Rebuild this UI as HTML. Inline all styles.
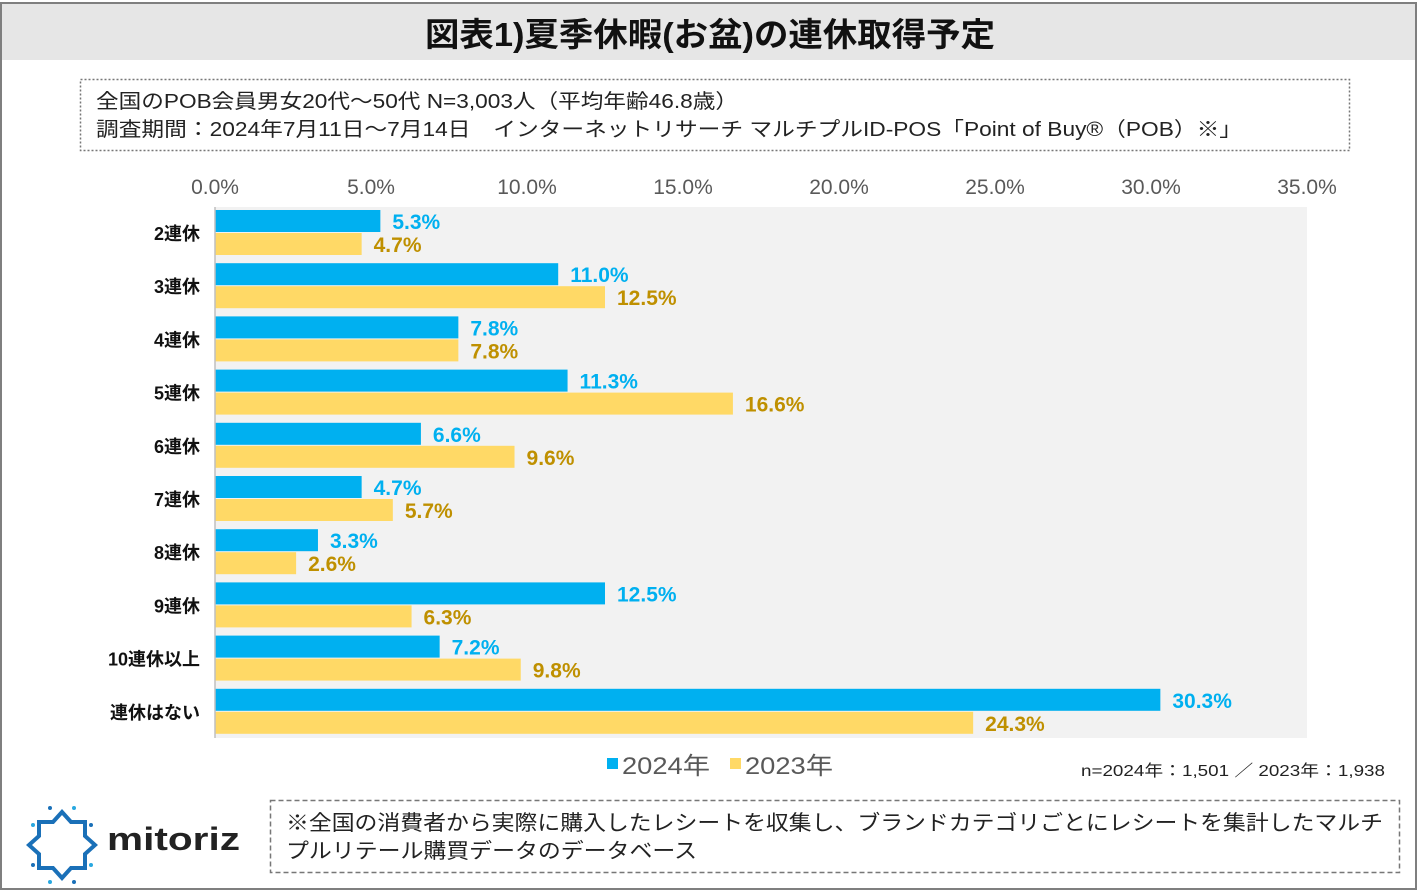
<!DOCTYPE html>
<html><head><meta charset="utf-8"><style>
html,body{margin:0;padding:0;background:#fff}
svg{display:block;font-family:"Liberation Sans","Noto Sans CJK JP",sans-serif}
</style></head><body>
<svg id="c" width="1417" height="890" viewBox="0 0 1417 890" xmlns="http://www.w3.org/2000/svg">
<rect x="1" y="3" width="1415" height="886" fill="#fff" stroke="#7f7f7f" stroke-width="2"/>
<rect x="2" y="4" width="1413" height="56" fill="#e6e6e6"/>
<text x="425" y="46" textLength="570" lengthAdjust="spacingAndGlyphs" font-size="33" font-weight="bold" fill="#111">図表1)夏季休暇(お盆)の連休取得予定</text>
<rect x="80.5" y="79.5" width="1269" height="71" fill="none" stroke="#777" stroke-width="1.5" stroke-dasharray="2,2"/>
<text x="96" y="108" textLength="642" lengthAdjust="spacingAndGlyphs" font-size="20" fill="#222">全国のPOB会員男女20代～50代 N=3,003人（平均年齢46.8歳）</text>
<text x="96" y="136" textLength="1146" lengthAdjust="spacingAndGlyphs" font-size="20" fill="#222">調査期間：2024年7月11日～7月14日　インターネットリサーチ マルチプルID-POS「Point of Buy®（POB）※」</text>
<rect x="215" y="207" width="1092" height="531" fill="#f2f2f2"/>
<g id="ticks"></g>
<g id="bars"></g>
<line x1="215" y1="207" x2="215" y2="738" stroke="#bfbfbf" stroke-width="1.5"/>
<rect x="607" y="758" width="11" height="11" fill="#00b0f0"/>
<text x="622" y="774" textLength="88" lengthAdjust="spacingAndGlyphs" font-size="24" fill="#595959">2024年</text>
<rect x="730" y="758" width="11" height="11" fill="#ffd966"/>
<text x="745" y="774" textLength="88" lengthAdjust="spacingAndGlyphs" font-size="24" fill="#595959">2023年</text>
<text x="1081" y="776" textLength="304" lengthAdjust="spacingAndGlyphs" font-size="16" fill="#222">n=2024年：1,501 ／ 2023年：1,938</text>
<g>
<polygon points="62,812 71,822 85,822 85,836 95,845 85,854 85,868 71,868 62,878 53,868 39,868 39,854 29,845 39,836 39,822 53,822" fill="none" stroke="#1a70b8" stroke-width="4"/>
<circle cx="50" cy="808" r="2" fill="#1a70b8"/><circle cx="74" cy="808" r="2" fill="#29a8e0"/>
<circle cx="33" cy="825" r="2" fill="#29a8e0"/><circle cx="91" cy="825" r="2" fill="#1a70b8"/>
<circle cx="33" cy="865" r="2" fill="#1a70b8"/><circle cx="91" cy="865" r="2" fill="#29a8e0"/>
<circle cx="50" cy="882" r="2" fill="#29a8e0"/><circle cx="74" cy="882" r="2" fill="#1a70b8"/>
<text x="107" y="850" textLength="133" lengthAdjust="spacingAndGlyphs" font-size="32" font-weight="bold" fill="#222">mitoriz</text>
</g>
<rect x="270.5" y="800.5" width="1129" height="72" fill="none" stroke="#777" stroke-width="1.5" stroke-dasharray="5,3"/>
<text x="286" y="830" textLength="1097" lengthAdjust="spacingAndGlyphs" font-size="21" fill="#222">※全国の消費者から実際に購入したレシートを収集し、ブランドカテゴリごとにレシートを集計したマルチ</text>
<text x="286" y="858" textLength="411" lengthAdjust="spacingAndGlyphs" font-size="21" fill="#222">プルリテール購買データのデータベース</text>
</svg>
<script>
const categories=["2連休","3連休","4連休","5連休","6連休","7連休","8連休","9連休","10連休以上","連休はない"];
const values2024=[5.3,11.0,7.8,11.3,6.6,4.7,3.3,12.5,7.2,30.3];
const values2023=[4.7,12.5,7.8,16.6,9.6,5.7,2.6,6.3,9.8,24.3];
const tickValues=[0,5,10,15,20,25,30,35];
const NS="http://www.w3.org/2000/svg";
const x0=215,pxPer=31.2,top0=210,pitch=53.2,bh=22;
const xs=v=>x0+v*pxPer;
function mk(tag,attrs,txt,parent){const e=document.createElementNS(NS,tag);for(const k in attrs)e.setAttribute(k,attrs[k]);if(txt!==undefined)e.textContent=txt;parent.appendChild(e);return e;}
const tg=document.getElementById('ticks');
tickValues.forEach(t=>{
 const e=mk('text',{x:xs(t),y:194,'text-anchor':'middle','font-size':21,fill:'#595959'},t.toFixed(1)+'%',tg);
 
 
});
const bg=document.getElementById('bars');
categories.forEach((c,i)=>{
 const y=top0+i*pitch;
 const l=mk('text',{x:200,y:y+30,'text-anchor':'end','font-size':18,'font-weight':'bold',fill:'#111'},c,bg);
 
 
 const b1=mk('rect',{x:x0,y:y,width:xs(values2024[i])-x0,height:bh,fill:'#00b0f0'},undefined,bg);
 
 
 const t1=mk('text',{x:xs(values2024[i])+12,y:y+19,'font-size':21,'font-weight':'bold',fill:'#00b0f0'},values2024[i].toFixed(1)+'%',bg);
 
 
 const b2=mk('rect',{x:x0,y:y+23,width:xs(values2023[i])-x0,height:bh,fill:'#ffd966'},undefined,bg);
 
 
 const t2=mk('text',{x:xs(values2023[i])+12,y:y+42,'font-size':21,'font-weight':'bold',fill:'#bf9000'},values2023[i].toFixed(1)+'%',bg);
 
 
});
</script>
</body></html>
